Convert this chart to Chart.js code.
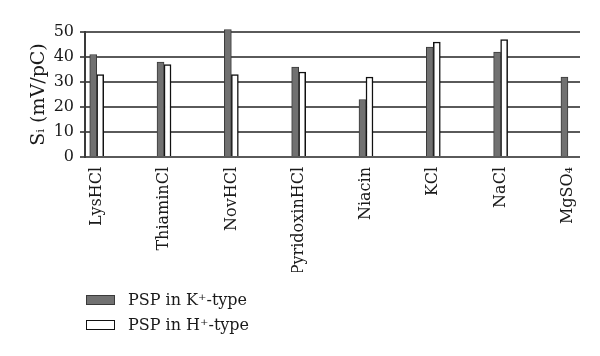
<!DOCTYPE html>
<html>
<head>
<meta charset="utf-8">
<script src="https://cdn.jsdelivr.net/npm/chart.js@4"></script>
<style>
html, body { margin: 0; padding: 0; background: #fff; }
#wrap { position: relative; width: 600px; height: 356px; }
#legend { position: absolute; left: 86px; top: 287px; font-family: "DejaVu Serif"; font-size: 16px; color: #1a1a1a; }
.item { display: flex; align-items: center; height: 25px; white-space: nowrap; }
.box { width: 27px; height: 8px; margin-right: 13px; border-style: solid; border-width: 1px; }
</style>
</head>
<body>
<div id="wrap">
<canvas id="c" width="600" height="356"></canvas>
<div id="legend"></div>
</div>
<script>
const categories = ['LysHCl', 'ThiaminCl', 'NovHCl', 'PyridoxinHCl', 'Niacin', 'KCl', 'NaCl', 'MgSO₄'];
const kType = [41, 38, 51, 36, 23, 44, 42, 32];
const hType = [33, 37, 33, 34, 32, 46, 47, null];
const yTicks = [0, 10, 20, 30, 40, 50];
const seriesLabels = ['PSP in K⁺-type', 'PSP in H⁺-type'];
const yTitle = 'Sᵢ (mV/pC)';

const FONT = 'DejaVu Serif';

const toPoints = (vals) => vals.map((v, i) => ({ x: i, y: v }));

const chart = new Chart(document.getElementById('c'), {
  type: 'bar',
  data: {
    datasets: [
      {
        label: seriesLabels[0],
        data: toPoints(kType),
        backgroundColor: '#717171',
        borderColor: '#3a3a3a',
        borderWidth: 1,
        barThickness: 7,
        clip: false
      },
      {
        label: seriesLabels[1],
        data: toPoints(hType),
        backgroundColor: '#ffffff',
        borderColor: '#111111',
        borderWidth: 1.5,
        barThickness: 7,
        clip: false
      }
    ]
  },
  options: {
    responsive: false,
    animation: false,
    layout: { padding: { left: 28, right: 20, top: 32, bottom: 84 } },
    plugins: {
      legend: { display: false },
      tooltip: { enabled: false }
    },
    scales: {
      x: {
        type: 'linear',
        offset: false,
        min: -0.174,
        max: 7.179,
        grid: { display: false, drawTicks: false },
        border: { display: false },
        afterBuildTicks: (s) => { s.ticks = categories.map((_, i) => ({ value: i })); },
        afterFit: (s) => { s.height = 115; },
        ticks: {
          autoSkip: false,
          maxRotation: 90,
          minRotation: 90,
          padding: 10,
          color: '#1a1a1a',
          font: { family: FONT, size: 16 },
          callback: (v, i) => categories[i]
        }
      },
      y: {
        min: 0,
        max: 50,
        afterBuildTicks: (s) => { s.ticks = yTicks.map(v => ({ value: v })); },
        afterFit: (s) => { s.width = 57; },
        grid: { color: '#5a5a5a', lineWidth: 2, tickLength: 5 },
        border: { display: true, color: '#3a3a3a', width: 2 },
        ticks: {
          padding: 6,
          color: '#1a1a1a',
          font: { family: FONT, size: 16 }
        },
        title: {
          display: true,
          text: yTitle,
          color: '#1a1a1a',
          font: { family: FONT, size: 19 },
          padding: { top: 0, bottom: 0 }
        }
      }
    }
  }
});

// HTML legend built from the chart's own legend items
const items = chart.options.plugins.legend.labels.generateLabels(chart);
const legendEl = document.getElementById('legend');
items.forEach(it => {
  const row = document.createElement('div');
  row.className = 'item';
  const box = document.createElement('span');
  box.className = 'box';
  box.style.background = it.fillStyle;
  box.style.borderColor = it.strokeStyle;
  const txt = document.createElement('span');
  txt.textContent = it.text;
  row.appendChild(box);
  row.appendChild(txt);
  legendEl.appendChild(row);
});
</script>
</body>
</html>
